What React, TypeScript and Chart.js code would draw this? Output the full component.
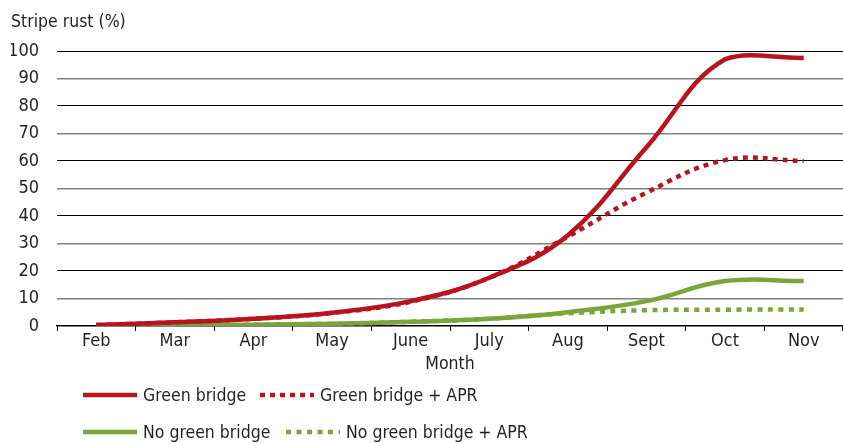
import React, { useEffect, useRef } from "react";
import { Chart, registerables } from "chart.js";

Chart.register(...registerables);

const months = ["Feb", "Mar", "Apr", "May", "June", "July", "Aug", "Sept", "Oct", "Nov"];
const greenBridge = [0.3, 1.3, 2.6, 4.8, 9, 17.5, 33, 65, 97, 97.5];
const greenBridgeAPR = [0.3, 1.3, 2.6, 4.7, 8.8, 17.5, 32.5, 48.5, 60.3, 60];
const noGreenBridge = [0, 0.2, 0.4, 0.8, 1.5, 2.6, 5, 9, 16.3, 16.3];
const noGreenBridgeAPR = [0, 0.2, 0.4, 0.8, 1.5, 2.6, 4.6, 5.7, 5.9, 6];
const yTicks = [0, 10, 20, 30, 40, 50, 60, 70, 80, 90, 100];

const RED = "#B8141F";
const GREEN = "#7AA53A";
const TEXT = "#231F20";
const FONT = "'Liberation Sans Narrow', 'DejaVu Sans Condensed', 'Arial Narrow', sans-serif";

const legendItems = [
  { label: "Green bridge", color: RED, dash: [] as number[], x: 83, row: 0 },
  { label: "Green bridge + APR", color: RED, dash: [5, 5], x: 260, row: 0 },
  { label: "No green bridge", color: GREEN, dash: [] as number[], x: 83, row: 1 },
  { label: "No green bridge + APR", color: GREEN, dash: [5, 5.5], x: 286, row: 1 },
];

const legendPlugin = {
  id: "customLegend",
  afterDraw(chart: any) {
    const ctx = chart.ctx as CanvasRenderingContext2D;
    const rowsY = [395, 432];
    ctx.save();
    for (const it of legendItems) {
      const y = rowsY[it.row];
      ctx.beginPath();
      ctx.strokeStyle = it.color;
      ctx.lineWidth = 4.5;
      ctx.lineCap = "butt";
      ctx.setLineDash(it.dash);
      ctx.moveTo(it.x, y);
      ctx.lineTo(it.x + 54, y);
      ctx.stroke();
      ctx.setLineDash([]);
      ctx.fillStyle = TEXT;
      ctx.font = `17.5px ${FONT}`;
      ctx.textBaseline = "middle";
      ctx.textAlign = "left";
      ctx.fillText(it.label, it.x + 60, y + 1);
    }
    ctx.restore();
  },
};

export default function App() {
  const ref = useRef<HTMLCanvasElement | null>(null);
  useEffect(() => {
    if (!ref.current) return;
    const chart = new Chart(ref.current, {
      type: "line",
      data: {
        labels: months,
        datasets: [
          { label: "Green bridge + APR", data: greenBridgeAPR, borderColor: RED, borderWidth: 4.5, borderDash: [5, 5], pointRadius: 0, tension: 0.4, fill: false },
          { label: "Green bridge", data: greenBridge, borderColor: RED, borderWidth: 4.5, pointRadius: 0, tension: 0.4, fill: false },
          { label: "No green bridge + APR", data: noGreenBridgeAPR, borderColor: GREEN, borderWidth: 4.5, borderDash: [5, 5.5], pointRadius: 0, tension: 0.4, fill: false },
          { label: "No green bridge", data: noGreenBridge, borderColor: GREEN, borderWidth: 4.5, pointRadius: 0, tension: 0.4, fill: false },
        ],
      },
      options: {
        animation: false,
        responsive: true,
        maintainAspectRatio: false,
        layout: { padding: { left: 11, right: 0, top: 0, bottom: 68 } },
        plugins: {
          legend: { display: false },
          tooltip: { enabled: false },
          title: {
            display: true,
            text: "Stripe rust (%)",
            align: "start",
            color: TEXT,
            font: { family: FONT, size: 17.5, weight: "normal" },
            padding: { top: 12, bottom: 18 },
          },
        },
        scales: {
          x: {
            type: "category",
            offset: true,
            grid: { offset: true, drawOnChartArea: false, drawTicks: true, tickLength: 5, color: "#000", lineWidth: 1 },
            border: { display: true, color: "#000", width: 1.5 },
            ticks: { color: TEXT, font: { family: FONT, size: 18 }, padding: 0, maxRotation: 0, autoSkip: false },
            title: { display: true, text: "Month", color: TEXT, font: { family: FONT, size: 17.5 }, padding: { top: 1.5, bottom: 0 } },
          },
          y: {
            min: 0,
            max: 100,
            afterBuildTicks: (axis: any) => {
              axis.ticks = yTicks.map((v) => ({ value: v }));
            },
            afterFit: (axis: any) => {
              axis.width = 46;
            },
            grid: {
              drawTicks: false,
              color: (c: any) => (c.tick && c.tick.value % 20 === 0 ? "#000" : "#808080"),
              lineWidth: (c: any) => (c.tick && c.tick.value % 20 === 0 ? 1 : 1.4),
            },
            border: { display: false },
            ticks: { color: TEXT, font: { family: FONT, size: 18 }, padding: 18 },
          },
        },
      },
      plugins: [legendPlugin],
    });
    return () => chart.destroy();
  }, []);
  return (
    <div style={{ position: "fixed", left: 0, top: 0, width: 843, height: 443, background: "#fff" }}>
      <canvas ref={ref} />
    </div>
  );
}
